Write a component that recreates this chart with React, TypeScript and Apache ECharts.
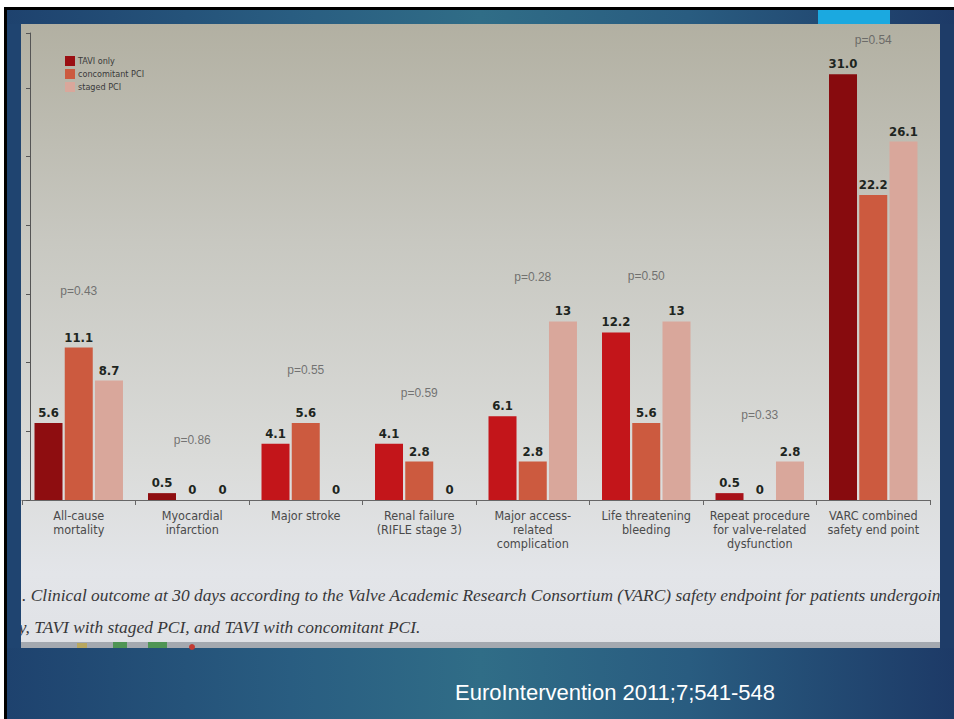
import React, { useEffect, useRef } from "react";
import * as echarts from "echarts";

// ---- data ----
const categories = [
  "All-cause\nmortality",
  "Myocardial\ninfarction",
  "Major stroke",
  "Renal failure\n(RIFLE stage 3)",
  "Major access-\nrelated\ncomplication",
  "Life threatening\nbleeding",
  "Repeat procedure\nfor valve-related\ndysfunction",
  "VARC combined\nsafety end point",
];
const seriesNames = ["TAVI only", "concomitant PCI", "staged PCI"];
const taviOnly = ["5.6", "0.5", "4.1", "4.1", "6.1", "12.2", "0.5", "31.0"];
const concomitantPci = ["11.1", "0", "5.6", "2.8", "2.8", "5.6", "0", "22.2"];
const stagedPci = ["8.7", "0", "0", "0", "13", "13", "2.8", "26.1"];
const pValueTexts = ["p=0.43", "p=0.86", "p=0.55", "p=0.59", "p=0.28", "p=0.50", "p=0.33", "p=0.54"];
const pValueLevels = [15.2, 4.4, 9.5, 7.8, 16.2, 16.3, 6.2, 33.5];
const yMin = 0;
const yMax = 34;
const yInterval = 5;
const captionLine1 =
  ". Clinical outcome at 30 days according to the Valve Academic Research Consortium (VARC) safety endpoint for patients undergoing";
const captionLine2 = "ly, TAVI with staged PCI, and TAVI with concomitant PCI.";
const citation = "EuroIntervention 2011;7;541-548";

// ---- styles ----
const taviShades = ["#8e0d10", "#8e0d10", "#c3151a", "#c3151a", "#c3151a", "#c3151a", "#a8121a", "#870b0e"];
const concColor = "#cc5a3f";
const stagedColor = "#d9a79b";
const narrow = '"Liberation Sans Narrow", "DejaVu Sans Condensed", "Liberation Sans", Arial, sans-serif';
const captionFont = 'italic 17.4px "Liberation Serif", "Times New Roman", serif';

export default function App() {
  const ref = useRef<HTMLDivElement>(null);
  useEffect(() => {
    if (!ref.current) return;
    const chart = echarts.init(ref.current, undefined, { renderer: "svg" });
    const valueLabel = {
      show: true,
      position: "top",
      distance: 4,
      color: "#1d2520",
      fontFamily: narrow,
      fontWeight: "bold",
      fontSize: 13,
      formatter: (p: any) => String(p.data),
    };
    chart.setOption({
      animation: false,
      backgroundColor: "transparent",
      graphic: [
        { type: "rect", z: -100, shape: { x: 4, y: 7, width: 950, height: 712 }, style: { fill: "#000" } },
        {
          type: "rect",
          z: -99,
          shape: { x: 7, y: 10, width: 947, height: 709 },
          style: {
            fill: new echarts.graphic.LinearGradient(0, 0, 1, 0, [
              { offset: 0, color: "#1e426e" },
              { offset: 0.3, color: "#295d81" },
              { offset: 0.5, color: "#306d87" },
              { offset: 0.72, color: "#295c80" },
              { offset: 1, color: "#1d3a67" },
            ]),
          },
        },
        { type: "rect", z: -98, shape: { x: 818, y: 10, width: 72, height: 14 }, style: { fill: "#1ba9e0" } },
        {
          type: "rect",
          z: -97,
          shape: { x: 21, y: 24, width: 919, height: 624 },
          style: {
            fill: new echarts.graphic.LinearGradient(0, 0, 0, 1, [
              { offset: 0, color: "#b2b0a2" },
              { offset: 0.35, color: "#c8c8c1" },
              { offset: 0.7, color: "#dadbd9" },
              { offset: 0.88, color: "#e3e5e9" },
              { offset: 1, color: "#e0e2e6" },
            ]),
          },
        },
        { type: "rect", z: -96, shape: { x: 21, y: 642, width: 919, height: 6 }, style: { fill: "#a4a9b0" } },
        { type: "rect", z: -95, shape: { x: 77, y: 643, width: 10, height: 5 }, style: { fill: "#b9a860" } },
        { type: "rect", z: -95, shape: { x: 113, y: 642, width: 14, height: 6 }, style: { fill: "#4f9555" } },
        { type: "rect", z: -95, shape: { x: 148, y: 642, width: 19, height: 6 }, style: { fill: "#4f9555" } },
        { type: "circle", z: -95, shape: { cx: 192, cy: 647, r: 3 }, style: { fill: "#c23a32" } },
        {
          type: "text",
          z: 10,
          x: 22,
          y: 595,
          style: {
            text: captionLine1,
            fill: "#38383a",
            font: captionFont,
            verticalAlign: "middle",
          },
        },
        {
          type: "text",
          z: 10,
          x: 14,
          y: 627,
          style: {
            text: captionLine2,
            fill: "#38383a",
            font: captionFont,
            verticalAlign: "middle",
          },
        },
        { type: "rect", z: 20, shape: { x: 7, y: 24, width: 14, height: 624 }, style: { fill: "#1f4470" } },
        { type: "rect", z: 20, shape: { x: 940, y: 24, width: 14, height: 624 }, style: { fill: "#1e3c68" } },
        {
          type: "text",
          z: 30,
          x: 615,
          y: 692,
          style: {
            text: citation,
            fill: "#ffffff",
            font: '22px "Liberation Sans", Arial, sans-serif',
            align: "center",
            verticalAlign: "middle",
          },
        },
      ],
      legend: {
        orient: "vertical",
        left: 65,
        top: 56,
        padding: 0,
        itemWidth: 10,
        itemHeight: 10,
        itemGap: 3,
        icon: "rect",
        textStyle: { fontSize: 9, color: "#3a3a3a", fontFamily: narrow, padding: [0, 0, 0, -2] },
        data: [
          { name: seriesNames[0], itemStyle: { color: "#9a0e12" } },
          { name: seriesNames[1], itemStyle: { color: concColor } },
          { name: seriesNames[2], itemStyle: { color: stagedColor } },
        ],
      },
      grid: { left: 22, right: 24, top: 33, bottom: 219, containLabel: false },
      xAxis: {
        type: "category",
        data: categories,
        axisLine: { lineStyle: { color: "#666", width: 1 } },
        axisTick: { show: true, length: 5, lineStyle: { color: "#666" } },
        axisLabel: {
          interval: 0,
          margin: 8,
          color: "#4a4a4a",
          fontSize: 12.5,
          lineHeight: 14,
          fontFamily: narrow,
        },
      },
      yAxis: {
        type: "value",
        min: yMin,
        max: yMax,
        interval: yInterval,
        offset: -8,
        axisLine: { show: true, lineStyle: { color: "#555", width: 1 } },
        axisTick: { show: true, length: 4, lineStyle: { color: "#555" } },
        axisLabel: { show: false },
        splitLine: { show: false },
      },
      series: [
        {
          name: seriesNames[0],
          type: "bar",
          data: taviOnly,
          barWidth: 28,
          barGap: "8%",
          itemStyle: { color: (p: any) => taviShades[p.dataIndex] },
          label: valueLabel,
        },
        {
          name: seriesNames[1],
          type: "bar",
          data: concomitantPci,
          barWidth: 28,
          barGap: "8%",
          itemStyle: { color: concColor },
          label: valueLabel,
        },
        {
          name: seriesNames[2],
          type: "bar",
          data: stagedPci,
          barWidth: 28,
          barGap: "8%",
          itemStyle: { color: stagedColor },
          label: valueLabel,
        },
        {
          name: "p-values",
          type: "scatter",
          data: pValueLevels,
          symbolSize: 1,
          itemStyle: { color: "rgba(0,0,0,0)" },
          silent: true,
          z: 5,
          label: {
            show: true,
            position: "inside",
            color: "#585858",
            fontSize: 12,
            fontFamily: '"Liberation Sans", Arial, sans-serif',
            formatter: (p: any) => pValueTexts[p.dataIndex],
          },
        },
      ],
    });
    return () => chart.dispose();
  }, []);
  return (
    <div
      ref={ref}
      style={{ position: "fixed", left: 0, top: 0, width: 954, height: 719, background: "#ffffff" }}
    />
  );
}
